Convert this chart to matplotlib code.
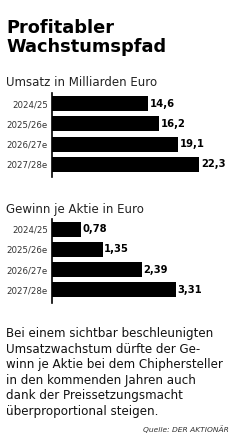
import matplotlib
matplotlib.use("Agg")
import matplotlib.pyplot as plt

# Daten
jahre = ["2024/25", "2025/26e", "2026/27e", "2027/28e"]
umsatz = [14.6, 16.2, 19.1, 22.3]
gewinn = [0.78, 1.35, 2.39, 3.31]

titel = "Profitabler\nWachstumspfad"
titel_umsatz = "Umsatz in Milliarden Euro"
titel_gewinn = "Gewinn je Aktie in Euro"
text = ["Bei einem sichtbar beschleunigten",
        "Umsatzwachstum dürfte der Ge-",
        "winn je Aktie bei dem Chiphersteller",
        "in den kommenden Jahren auch",
        "dank der Preissetzungsmacht",
        "überproportional steigen."]
quelle = "Quelle: DER AKTIONÄR"

W, H = 250, 440
plt.rcParams['font.family'] = ['DejaVu Sans']
fig = plt.figure(figsize=(W / 100, H / 100), dpi=100)
fig.patch.set_facecolor("white")


def fx(px):
    return px / W


def fy(py):
    return 1 - py / H


def balken(top, bottom, werte, xmax, ytop, ybot):
    ax = fig.add_axes([fx(52), fy(bottom), fx(W - 52), (bottom - top) / H])
    pos = list(range(len(werte)))
    ax.barh(pos, werte, height=0.74, color="black", left=0)
    ax.set_xlim(0, xmax)
    ax.set_ylim(ybot, ytop)
    for s in ["top", "right", "bottom"]:
        ax.spines[s].set_visible(False)
    ax.spines["left"].set_linewidth(1.2)
    ax.set_xticks([])
    ax.set_yticks(pos)
    ax.set_yticklabels(jahre, fontsize=6.2, color="#333333")
    ax.tick_params(axis="y", length=0, pad=3)
    for p, v in zip(pos, werte):
        t = ("%.2f" % v if v < 10 else "%.1f" % v).replace(".", ",")
        ax.text(v + xmax * 0.008, p, t, va="center", ha="left",
                fontsize=7.2, fontweight="bold", color="black")
    ax.patch.set_alpha(0)
    return ax


fig.text(fx(6), fy(19), titel, fontsize=12.8, fontweight="bold",
         va="top", ha="left", linespacing=1.05)
fig.text(fx(6), fy(83), titel_umsatz, fontsize=8.5, va="center",
         ha="left", color="#222222")
balken(93, 177, umsatz, 30.0, -0.52, 3.62)

fig.text(fx(6), fy(209), titel_gewinn, fontsize=8.5, va="center",
         ha="left", color="#222222")
balken(219, 303, gewinn, 5.28, -0.52, 3.67)

for i, zeile in enumerate(text):
    fig.text(fx(6), fy(333.5 + i * 15.5), zeile, fontsize=8.6,
             va="center", ha="left", color="#111111")

fig.text(fx(229), fy(429), quelle, fontsize=5.4, style="italic",
         va="center", ha="right", color="#333333")

fig.savefig("out.png", dpi=100)
